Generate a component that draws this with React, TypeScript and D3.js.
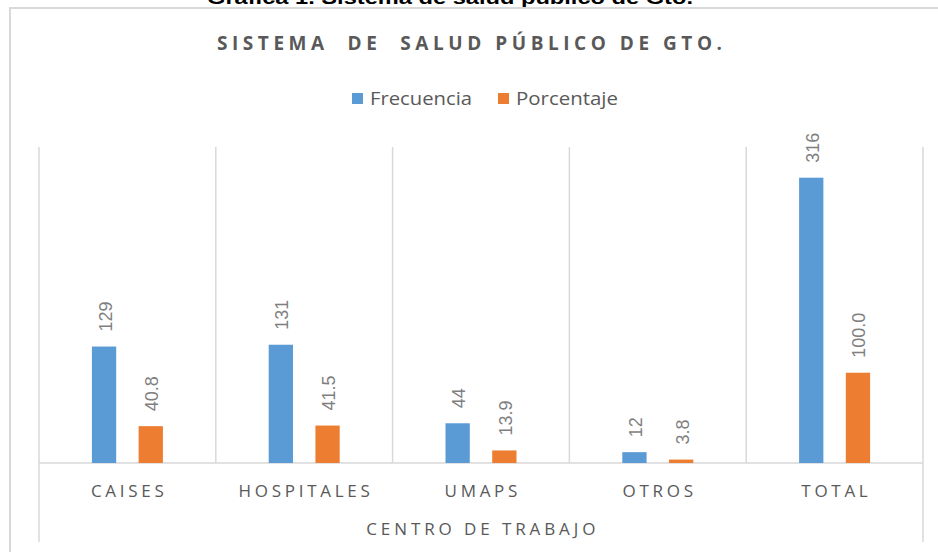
import React from "react";
import * as d3 from "d3";

const categories = ["CAISES", "HOSPITALES", "UMAPS", "OTROS", "TOTAL"];
const series = ["Frecuencia", "Porcentaje"];
const frecuencia = [129, 131, 44, 12, 316];
const porcentaje = [40.8, 41.5, 13.9, 3.8, 100.0];
const colors = ["#5b9bd5", "#ed7d31"];
const pageTitle = "Gráfica 1. Sistema de salud público de Gto.";
const chartTitle = "SISTEMA  DE  SALUD PÚBLICO DE GTO.";
const axisTitle = "CENTRO DE TRABAJO";

const W = 938;
const H = 552;

export default function App() {
  const left = 39, right = 923, top = 147, base = 463;
  const x0 = d3.scaleBand<string>().domain(categories).range([left, right]).padding(0);
  const x1 = d3.scaleBand<string>().domain(series).range([-35.5, 35.5]).paddingInner(0.48).paddingOuter(0);
  const y = d3.scaleLinear().domain([0, 350]).range([base, top]);
  const values = [frecuencia, porcentaje];
  const fmt = [d3.format("d"), d3.format(".1f")];
  const grid = "#d9d9d9";
  const boundaries = categories.map((c) => x0(c)!).concat([right]);

  return (
    <svg width={W} height={H} style={{ position: "absolute", left: 0, top: 0, background: "#fff" }}>
      <rect x={0} y={0} width={W} height={H} fill="#fff" />
      <text x={450} y={4} textAnchor="middle" fontFamily="Liberation Sans, Arial" fontWeight="bold" fontSize={19} fill="#000" textLength={486} lengthAdjust="spacingAndGlyphs">{pageTitle}</text>
      <rect x={10} y={8} width={W + 20} height={H + 20} fill="none" stroke={grid} strokeWidth={2} />
      <text x={217} y={50} fontFamily="Open Sans, sans-serif" fontWeight="bold" fontSize={19} fill="#595959" textLength={505} lengthAdjust="spacing" style={{ whiteSpace: "pre" }}>{chartTitle}</text>
      {series.map((s, i) => (
        <g key={s}>
          <rect x={[352, 498][i]} y={93} width={11} height={11} fill={colors[i]} />
          <text x={[370, 516][i]} y={105} fontFamily="Open Sans, sans-serif" fontSize={19} fill="#595959" textLength={102} lengthAdjust="spacingAndGlyphs">{s}</text>
        </g>
      ))}
      {boundaries.map((bx, i) => (
        <line key={i} x1={bx} x2={bx} y1={top} y2={i === 0 || i === boundaries.length - 1 ? 542 : base} stroke={grid} strokeWidth={1.5} />
      ))}
      <line x1={left} x2={right} y1={base} y2={base} stroke={grid} strokeWidth={1.5} />
      {categories.map((c, ci) => {
        const cx = x0(c)! + x0.bandwidth() / 2;
        return (
          <g key={c}>
            {series.map((s, si) => {
              const v = values[si][ci];
              const bx = cx + x1(s)!;
              const by = y(v);
              const lx = bx + x1.bandwidth() / 2 + 1;
              const ly = by - 15;
              return (
                <g key={s}>
                  <rect x={bx} y={by} width={x1.bandwidth()} height={base - by} fill={colors[si]} />
                  <text transform={`translate(${lx},${ly}) rotate(-90)`} dy="0.36em" fontFamily="Liberation Sans, Arial" fontSize={18} fill="#7f7f7f">{fmt[si](v)}</text>
                </g>
              );
            })}
            <text x={cx + 1.8} y={497} textAnchor="middle" fontFamily="Open Sans, sans-serif" fontSize={17} letterSpacing={3.7} fill="#595959">{c}</text>
          </g>
        );
      })}
      <text x={(left + right) / 2 + 1.8} y={535} textAnchor="middle" fontFamily="Open Sans, sans-serif" fontSize={17} letterSpacing={3.9} fill="#595959">{axisTitle}</text>
    </svg>
  );
}
